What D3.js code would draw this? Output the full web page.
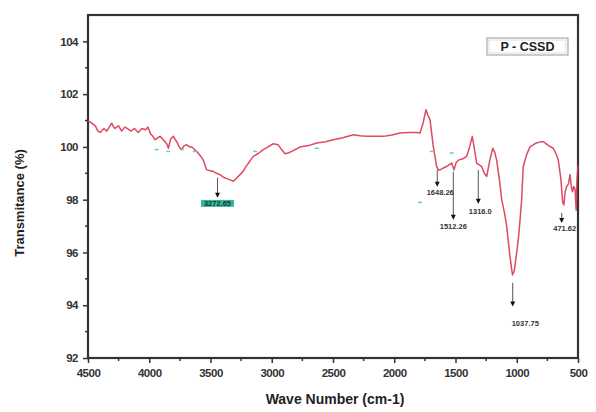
<!DOCTYPE html>
<html><head><meta charset="utf-8">
<script src="https://cdn.jsdelivr.net/npm/d3@7"></script>
<style>body{margin:0;background:#fff}svg{display:block}</style>
</head><body><svg id="c" width="596" height="412"></svg>
<script>
const wavenumber = [4500,4470,4440,4420,4400,4370,4347,4320,4307,4290,4280,4250,4225,4200,4180,4150,4120,4090,4060,4030,4010,3990,3970,3953,3930,3912,3890,3871,3855,3844,3825,3803,3790,3776,3755,3735,3715,3694,3670,3653,3630,3612,3580,3559,3531,3500,3477,3450,3422,3395,3368,3340,3314,3290,3259,3230,3204,3180,3151,3110,3069,3030,2987,2947,2920,2892,2860,2837,2800,2769,2700,2633,2560,2497,2420,2334,2280,2225,2150,2089,2020,1953,1880,1820,1790,1765,1741,1725,1708,1681,1654,1640,1627,1600,1572,1531,1512,1495,1477,1440,1409,1385,1363,1345,1327,1300,1286,1265,1245,1220,1196,1180,1164,1140,1123,1100,1082,1055,1035,1020,1001,985,973,960,947,920,892,840,800,783,740,702,680,661,640,625,615,605,593,578,565,555,545,535,524,515,508,500];
const transmittance = [101.0,100.9,100.8,100.6,100.55,100.7,100.6,100.8,100.9,100.75,100.7,100.8,100.6,100.75,100.7,100.6,100.7,100.55,100.7,100.65,100.75,100.5,100.4,100.27,100.35,100.4,100.3,100.2,100.1,99.95,100.3,100.4,100.3,100.2,100.0,99.9,100.05,100.08,100.0,100.0,99.9,99.83,99.65,99.5,99.13,99.1,99.07,99.0,98.95,98.85,98.8,98.75,98.7,98.8,98.95,99.1,99.3,99.45,99.64,99.75,99.9,100.0,100.12,100.08,99.9,99.74,99.78,99.83,99.92,100.0,100.05,100.15,100.2,100.27,100.35,100.46,100.42,100.4,100.4,100.4,100.45,100.53,100.55,100.55,100.53,100.9,101.41,101.2,101.03,100.0,99.26,99.13,99.13,99.2,99.26,99.39,99.13,99.4,99.5,99.55,99.64,100.0,100.4,99.9,99.39,99.3,99.26,99.0,98.88,99.5,99.95,99.8,99.5,98.7,98.0,97.5,96.98,95.84,95.15,95.3,95.97,96.6,97.24,98.0,99.26,99.7,100.0,100.15,100.2,100.2,100.05,99.95,99.75,99.5,98.8,97.9,97.8,98.3,98.5,98.6,98.95,98.5,98.3,98.5,98.4,97.6,98.8,99.3];

const xTicks = [4500,4000,3500,3000,2500,2000,1500,1000,500];
const yTicks = [92,94,96,98,100,102,104];
const xLabel = "Wave Number (cm-1)";
const yLabel = "Transmitance (%)";
const legendText = "P - CSSD";

// peak annotations: label, wavenumber, arrow start T, arrow end T, label T
const peakLabels = ["3272.65","1648.26","1512.26","1316.0","1037.75","471.62"];
const peakWn     = [3443, 1649, 1518, 1314, 1033, 633];
const peakFrom   = [98.83, 99.13, 99.06, 99.13, 94.85, 97.5];
const peakTo     = [98.07, 98.49, 97.24, 97.85, 93.95, 97.12];
const peakTextT  = [97.86, 98.26, 96.98, 97.57, 93.33, 96.9];

// small cyan specks seen along the trace
const speckWn = [3940,3845,3735,3627,3137,2633,1694,1531,1790];
const speckT  = [99.9,99.83,99.9,99.83,99.83,99.95,99.83,99.77,97.9];

const svg = d3.select("#c");
const L = 88, T = 15, R = 578, B = 358;
const x = d3.scaleLinear().domain([4500,500]).range([L,R]);
const y = d3.scaleLinear().domain([92,105]).range([B,T]);

const font = "'Liberation Sans', Arial, sans-serif";

// minor ticks
const xMinor = d3.range(4250, 500, -500);
const yMinor = d3.range(93, 105, 2);
svg.append("g").selectAll("line").data(xMinor).join("line")
  .attr("x1", d=>x(d)).attr("x2", d=>x(d)).attr("y1", B).attr("y2", B+3)
  .attr("stroke","#333").attr("stroke-width",1.5);
svg.append("g").selectAll("line").data(yMinor).join("line")
  .attr("x1", L-3).attr("x2", L).attr("y1", d=>y(d)).attr("y2", d=>y(d))
  .attr("stroke","#333").attr("stroke-width",1.5);

// axes
const xAxis = svg.append("g").attr("transform",`translate(0,${B})`)
  .call(d3.axisBottom(x).tickValues(xTicks).tickSize(5).tickPadding(6).tickFormat(d3.format("d")));
const yAxis = svg.append("g").attr("transform",`translate(${L},0)`)
  .call(d3.axisLeft(y).tickValues(yTicks).tickSize(5).tickPadding(5).tickFormat(d3.format("d")));
[xAxis,yAxis].forEach(g=>{
  g.select(".domain").remove();
  g.selectAll(".tick line").attr("stroke","#333").attr("stroke-width",1.5);
  g.selectAll(".tick text").attr("font-family",font).attr("font-size",11.5)
    .attr("font-weight","bold").attr("fill","#333").style("letter-spacing","-0.5px");
});

// frame
svg.append("rect").attr("x",L).attr("y",T).attr("width",R-L).attr("height",B-T)
  .attr("fill","none").attr("stroke","#333").attr("stroke-width",2.2);

// curve
const pts = wavenumber.map((w,i)=>[w, transmittance[i]]);
svg.append("path").datum(pts)
  .attr("fill","none").attr("stroke","#dc3550").attr("stroke-width",1.5)
  .attr("stroke-linejoin","round").attr("opacity",0.9)
  .attr("d", d3.line().x(d=>x(d[0])).y(d=>y(d[1])));

// specks
svg.append("g").selectAll("line").data(speckWn).join("line")
  .attr("x1",(d)=>x(d)-2).attr("x2",(d)=>x(d)+2)
  .attr("y1",(d,i)=>y(speckT[i])).attr("y2",(d,i)=>y(speckT[i]))
  .attr("stroke","#6cc9c0").attr("stroke-width",1.5);

// annotations
const ann = svg.append("g");
peakLabels.forEach((lab,i)=>{
  const px = x(peakWn[i]);
  ann.append("line").attr("x1",px).attr("x2",px)
    .attr("y1",y(peakFrom[i])).attr("y2",y(peakTo[i])-4)
    .attr("stroke","#555").attr("stroke-width",1);
  const yb = y(peakTo[i]);
  ann.append("path").attr("d",`M${px-2.5},${yb-5}L${px+2.5},${yb-5}L${px},${yb}Z`).attr("fill","#111");
  let tx = px, anchor = "middle";
  if (i===4) { tx = px - 1; anchor = "start"; }
  if (i===1) { tx = px + 3; }
  if (i===3) { tx = px + 2; }
  if (i===5) { tx = px + 3; }
  const ty = y(peakTextT[i]);
  if (i===0) {
    ann.append("rect").attr("x",tx-16.5).attr("y",ty-3.5).attr("width",33).attr("height",7)
      .attr("fill","#3db59b");
  }
  ann.append("text").attr("x",tx).attr("y",ty).attr("dy","0.35em")
    .attr("text-anchor",anchor).attr("font-family",font).attr("font-size",7.5)
    .attr("font-weight","bold").attr("fill", i===0 ? "#0d3b3a" : "#333")
    .text(lab);
});

// legend box
const lg = svg.append("g");
lg.append("rect").attr("x",487).attr("y",38).attr("width",81).attr("height",17)
  .attr("fill","#fff").attr("stroke","#999").attr("stroke-width",1);
lg.append("rect").attr("x",489).attr("y",40).attr("width",77).attr("height",13)
  .attr("fill","none").attr("stroke","#ddd").attr("stroke-width",1);
lg.append("text").attr("x",527.5).attr("y",46.5).attr("dy","0.36em").attr("text-anchor","middle")
  .attr("font-family",font).attr("font-size",12.5).attr("font-weight","bold").attr("fill","#222")
  .text(legendText);

// axis labels
svg.append("text").attr("x",335).attr("y",404).attr("text-anchor","middle")
  .attr("font-family",font).attr("font-size",14).attr("font-weight","bold").attr("fill","#222")
  .text(xLabel);
svg.append("text").attr("transform","translate(24,203) rotate(-90)").attr("text-anchor","middle")
  .attr("font-family",font).attr("font-size",13).attr("font-weight","bold").attr("fill","#222")
  .text(yLabel);
</script></body></html>
